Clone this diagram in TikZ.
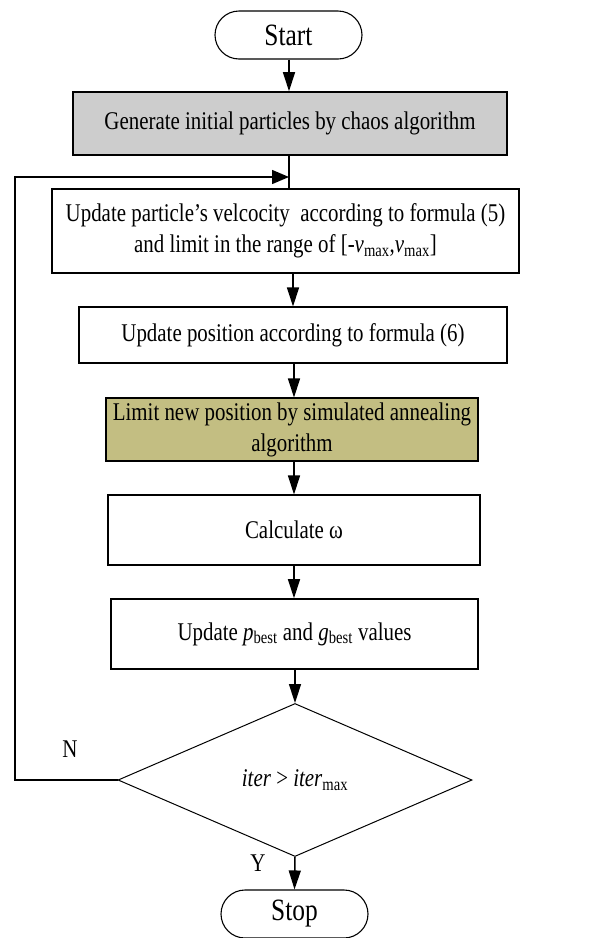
\documentclass[tikz,border=0pt]{standalone}
\usepackage{fontspec}
\setmainfont{Liberation Serif}[FakeStretch=0.82]
\usetikzlibrary{shapes.geometric,arrows.meta}

\definecolor{boxgray}{RGB}{205,205,205}
\definecolor{olive}{RGB}{195,190,130}

\newcommand{\sub}[1]{\textsubscript{#1}}

\tikzset{
  every node/.style={font=\fontsize{25.5}{31}\selectfont, inner sep=0pt},
  procbox/.style={draw, line width=1.6pt, rectangle, align=center},
  thinbox/.style={draw, line width=1.1pt, rectangle, align=center},
  terminal/.style={draw, line width=1.1pt, rectangle, rounded corners=24pt,
                   minimum width=147pt, minimum height=48pt,
                   font=\fontsize{31}{36}\selectfont},
  decision/.style={draw, line width=1pt, diamond,
                   minimum width=354pt, minimum height=153pt},
  flow/.style={line width=1.5pt, -{Triangle[length=19pt,width=12pt]}},
  loopflow/.style={line width=1.5pt, -{Triangle[length=17pt,width=14pt]}},
  lbl/.style={font=\fontsize{25.5}{31}\selectfont}
}

\begin{document}
\begin{tikzpicture}[x=1pt,y=-1pt]
  \useasboundingbox[fill=white] (0,0) rectangle (614,938);

  % terminals and process steps, top to bottom
  \node[terminal] (start) at (288.5,35) {Start};
  \node[procbox, fill=boxgray, minimum width=434pt, minimum height=63pt]
    (gen) at (290,123.5) {Generate initial particles by chaos algorithm};
  \node[procbox, minimum width=467pt, minimum height=84pt]
    (vel) at (285.5,231) {Update particle’s velcocity\ \ according to formula (5)\\
      and limit in the range of [-\textit{v}\sub{max},\textit{v}\sub{max}]};
  \node[thinbox, minimum width=428pt, minimum height=56pt]
    (pos) at (293,335) {Update position according to formula (6)};
  \node[thinbox, fill=olive, minimum width=372pt, minimum height=63pt]
    (lim) at (292,429.5) {Limit new position by simulated annealing\\algorithm};
  \node[thinbox, minimum width=372pt, minimum height=70pt]
    (calc) at (294,530) {Calculate ω};
  \node[procbox, minimum width=367pt, minimum height=70pt]
    (best) at (294.5,634) {Update \textit{p}\sub{best} and \textit{g}\sub{best} values};
  \node[decision] (dec) at (295,780) {\textit{iter} > \textit{iter}\sub{max}};
  \node[terminal] (stop) at (294.5,914) {Stop};

  % branch labels
  \node[lbl] (nlab) at (70,749) {N};
  \node[lbl] (ylab) at (258,863) {Y};

  % junction where the loop re-enters the main flow
  \coordinate (merge) at (289,177);
  \coordinate (corner) at (15,177);

  % main flow
  \draw[flow] (start.south -| merge) -- (gen.north -| merge);
  \draw[line width=1.5pt] (gen.south -| merge) -- (vel.north -| merge);
  \draw[flow] (pos.north |- vel.south) -- (pos.north);
  \draw[flow] (calc.north |- pos.south) -- (calc.north |- lim.north);
  \draw[flow] (calc.north |- lim.south) -- (calc.north);
  \draw[flow] (calc.south) -- (calc.south |- best.north);
  \draw[flow] (dec.north |- best.south) -- (dec.north);
  \draw[flow] (dec.south) -- (stop.north);

  % loop back on N
  \draw[loopflow] (dec.west) -- (dec.west -| corner) -- (corner) -- (merge);
\end{tikzpicture}
\end{document}
